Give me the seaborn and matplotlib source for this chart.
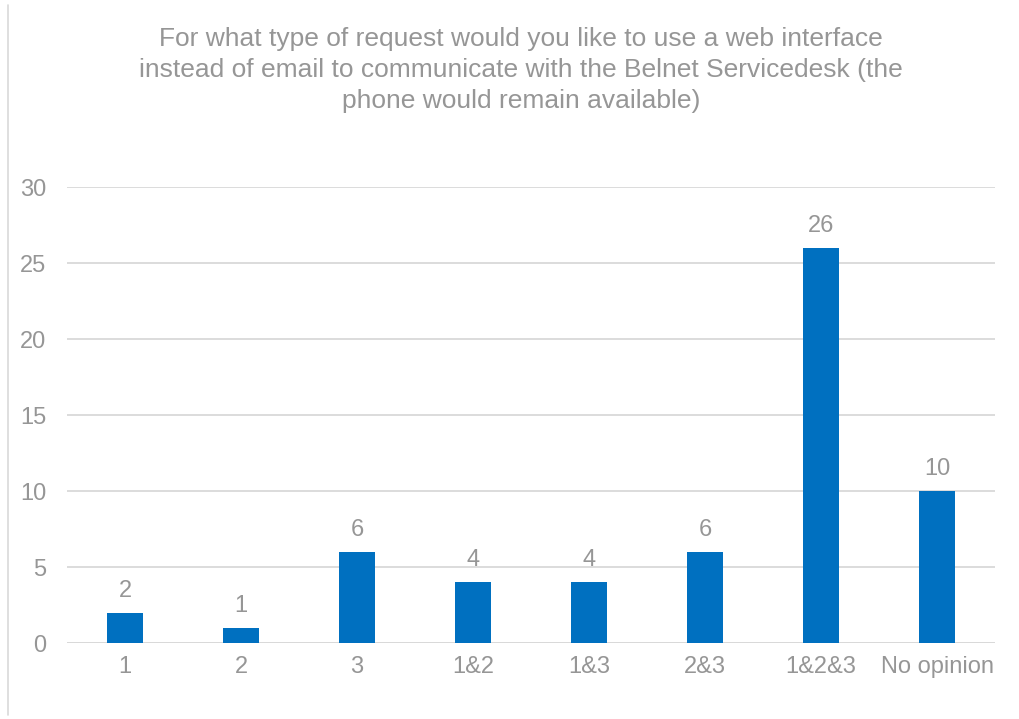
import matplotlib
matplotlib.use("Agg")
import matplotlib.pyplot as plt
import pandas as pd
import seaborn as sns
from matplotlib.lines import Line2D

categories = ["1", "2", "3", "1&2", "1&3", "2&3", "1&2&3", "No opinion"]
counts = [2, 1, 6, 4, 4, 6, 26, 10]
y_ticks = [0, 5, 10, 15, 20, 25, 30]

TITLE = ("For what type of request would you like to use a web interface\n"
         "instead of email to communicate with the Belnet Servicedesk (the\n"
         "phone would remain available)")

BAR_COLOR = "#0070C0"
TEXT_COLOR = "#969696"
GRID_COLOR = "#D9D9D9"

sns.set_theme(style="white")
plt.rcParams["font.family"] = ["Liberation Sans", "DejaVu Sans"]

data = pd.DataFrame({"category": categories, "count": counts})

fig = plt.figure(figsize=(10.19, 7.19), dpi=100)
ax = fig.add_axes([0.0658, 0.1057, 0.9107, 0.634])

sns.barplot(data=data, x="category", y="count", color=BAR_COLOR,
            width=0.31, saturation=1, linewidth=0, ax=ax, zorder=3)

ax.set_ylim(0, 30)
ax.set_yticks(y_ticks)
ax.set_xlim(-0.5, len(categories) - 0.5)
ax.yaxis.grid(True, color=GRID_COLOR, linewidth=1.3, zorder=0)
ax.set_axisbelow(True)
for spine in ax.spines.values():
    spine.set_visible(False)
ax.axhline(0, color=GRID_COLOR, linewidth=1.3, zorder=1)

ax.set_xlabel("")
ax.set_ylabel("")
ax.tick_params(axis="both", length=0, labelsize=17, labelcolor=TEXT_COLOR)
ax.tick_params(axis="x", pad=9)
ax.tick_params(axis="y", pad=15)

for container in ax.containers:
    ax.bar_label(container, fmt="%g", padding=8, fontsize=17, color=TEXT_COLOR)

fig.text(0.511, 0.963, TITLE, ha="center", va="top", fontsize=19,
         color=TEXT_COLOR, linespacing=1.38)

# light frame line on the left edge of the chart area
fig.add_artist(Line2D([0.0075, 0.0075], [0.005, 0.993], transform=fig.transFigure,
                      color=GRID_COLOR, linewidth=1.2))

fig.savefig("out.png", dpi=100)
plt.close(fig)
